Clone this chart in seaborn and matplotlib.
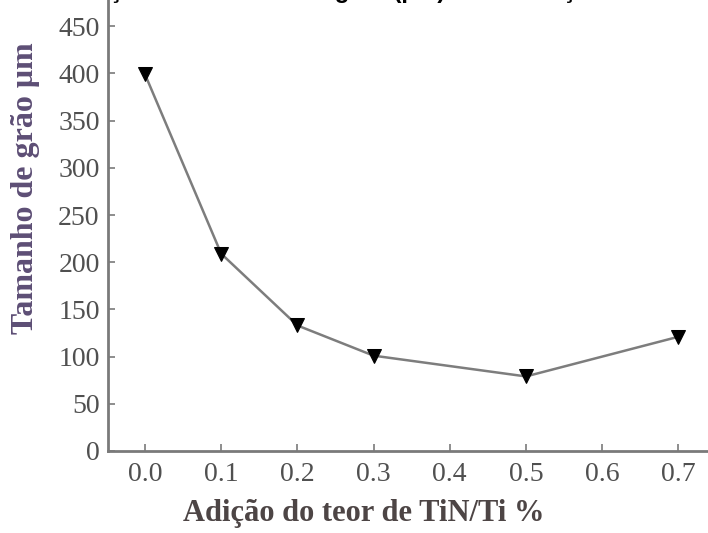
import matplotlib
matplotlib.use("Agg")
import matplotlib.pyplot as plt
import seaborn as sns
import pandas as pd

# Data
teor = [0.0, 0.1, 0.2, 0.3, 0.5, 0.7]
tamanho = [399, 209, 133, 101, 79, 121]
xticks = [0.0, 0.1, 0.2, 0.3, 0.4, 0.5, 0.6, 0.7]
yticks = [0, 50, 100, 150, 200, 250, 300, 350, 400, 450]
xlabel = "Adição do teor de TiN/Ti %"
ylabel = "Tamanho de grão μm"
title_text = "Variação do tamanho de grão (μm) com a adição"

sns.set_theme(style="ticks")
plt.rcParams['font.family'] = ['Liberation Serif', 'DejaVu Serif']

df = pd.DataFrame({"teor": teor, "tamanho": tamanho})

fig = plt.figure(figsize=(7.08, 5.33), dpi=100)
ax = fig.add_axes([108/708, 82/533, 600/708, 451/533])

sns.lineplot(data=df, x="teor", y="tamanho", ax=ax, color="#7d7d7d", linewidth=1.8,
             marker="v", markersize=10, markerfacecolor="black", markeredgecolor="black")

ax.set_xlim(-0.0486, 0.739)
ax.set_ylim(0, 477.8)
ax.set_xticks(xticks)
ax.set_xticklabels([f"{v:.1f}" for v in xticks])
ax.set_yticks(yticks)
ax.set_yticklabels([str(v) for v in yticks])

for s in ["top", "right"]:
    ax.spines[s].set_visible(False)
for s in ["left", "bottom"]:
    ax.spines[s].set_color("#7a7a7a")
    ax.spines[s].set_linewidth(2)

ax.tick_params(axis="both", direction="in", length=5, width=1.2, color="#7a7a7a",
               labelsize=20, labelcolor="#505050")
ax.tick_params(axis="y", pad=6)
ax.tick_params(axis="x", pad=8)

ax.set_xlabel(xlabel, fontsize=22, fontweight="bold", color="#4d4545")
ax.xaxis.set_label_coords(0.427, -0.138)
ax.xaxis.label.set_va("center")
ax.set_ylabel(ylabel, fontsize=23, fontweight="bold", color="#5d4e75")
ax.yaxis.set_label_coords(-0.137, 0.583)
ax.yaxis.label.set_va("center")

# Cropped title at the top (only descenders visible, as in the reference)
fig.text(52/708, 1 + 2.0/533, title_text, fontsize=17.3, fontweight="bold",
         family=["Liberation Sans", "DejaVu Sans"], color="black", ha="left", va="baseline")

fig.savefig("out.png", dpi=100)
